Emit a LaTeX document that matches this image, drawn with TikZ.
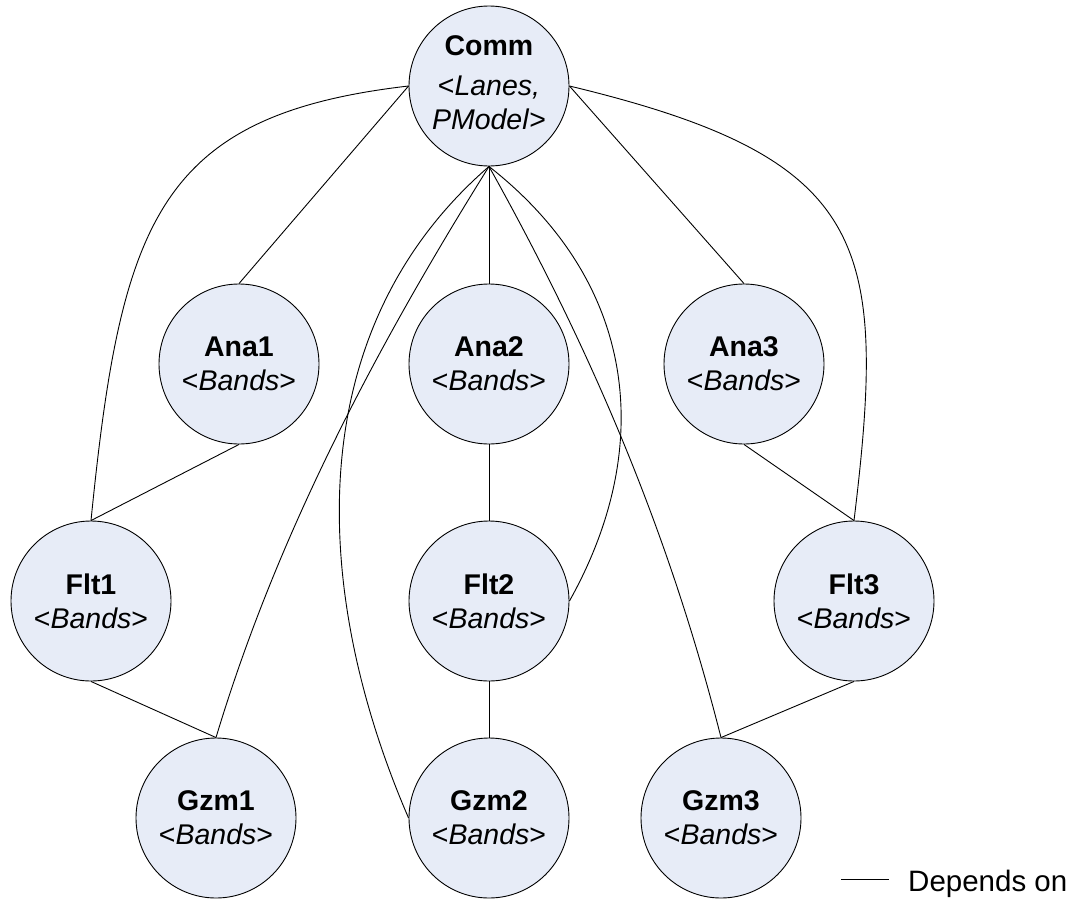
\documentclass[tikz,border=0pt]{standalone}
\usepackage{fontspec}
\setmainfont{Liberation Sans}
\definecolor{compfill}{RGB}{231,236,247}
\begin{document}
\begin{tikzpicture}[x=1pt,y=-1pt,
  comp/.style={circle,draw=black,line width=0.9pt,fill=compfill,
    minimum size=160pt,inner sep=0pt,align=center,
    font=\fontsize{28.5}{34}\selectfont},
  dep/.style={draw=black,line width=0.9pt}]
\path[use as bounding box] (0,0) rectangle (1071,900);

% components
\node[comp] (Comm) at (489,86)  {\textbf{Comm}\\[6pt]<\textit{Lanes,}\\\textit{PModel}>\rule[-6pt]{0pt}{0pt}};
\node[comp] (Ana1) at (239,364) {\textbf{Ana1}\\<\textit{Bands}>};
\node[comp] (Ana2) at (489,364) {\textbf{Ana2}\\<\textit{Bands}>};
\node[comp] (Ana3) at (744,364) {\textbf{Ana3}\\<\textit{Bands}>};
\node[comp] (Flt1) at (91,601)  {\textbf{Flt1}\\<\textit{Bands}>};
\node[comp] (Flt2) at (489,601) {\textbf{Flt2}\\<\textit{Bands}>};
\node[comp] (Flt3) at (854,601) {\textbf{Flt3}\\<\textit{Bands}>};
\node[comp] (Gzm1) at (216,818) {\textbf{Gzm1}\\<\textit{Bands}>};
\node[comp] (Gzm2) at (489,818) {\textbf{Gzm2}\\<\textit{Bands}>};
\node[comp] (Gzm3) at (721,818) {\textbf{Gzm3}\\<\textit{Bands}>};

% dependencies on Comm
\draw[dep] (Comm.west) -- (Ana1.north);
\draw[dep] (Comm.east) -- (Ana3.north);
\draw[dep] (Comm.south) -- (Ana2.north);
\draw[dep] (Comm.west) .. controls (158,115) and (121,221) .. (Flt1.north);
\draw[dep] (Comm.east) .. controls (869,158) and (888,241) .. (Flt3.north);
\draw[dep] (Comm.south) .. controls (365,365) and (273,548) .. (Gzm1.north);
\draw[dep] (Comm.south) .. controls (300,330) and (310,590) .. (Gzm2.west);
\draw[dep] (Comm.south) .. controls (640,285) and (654,450) .. (Flt2.east);
\draw[dep] (Comm.south) .. controls (600,365) and (673,548) .. (Gzm3.north);

% chains Ana -> Flt -> Gzm
\draw[dep] (Ana1.south) -- (Flt1.north);
\draw[dep] (Ana2.south) -- (Flt2.north);
\draw[dep] (Ana3.south) -- (Flt3.north);
\draw[dep] (Flt1.south) -- (Gzm1.north);
\draw[dep] (Flt2.south) -- (Gzm2.north);
\draw[dep] (Flt3.south) -- (Gzm3.north);

% legend
\coordinate (lgA) at (841,879);
\coordinate (lgB) at (889,879);
\draw[dep] (lgA) -- (lgB);
\node[anchor=base west,inner sep=0pt,font=\fontsize{29.5}{34}\selectfont] (lgText) at (908,891) {Depends on};
\end{tikzpicture}
\end{document}
